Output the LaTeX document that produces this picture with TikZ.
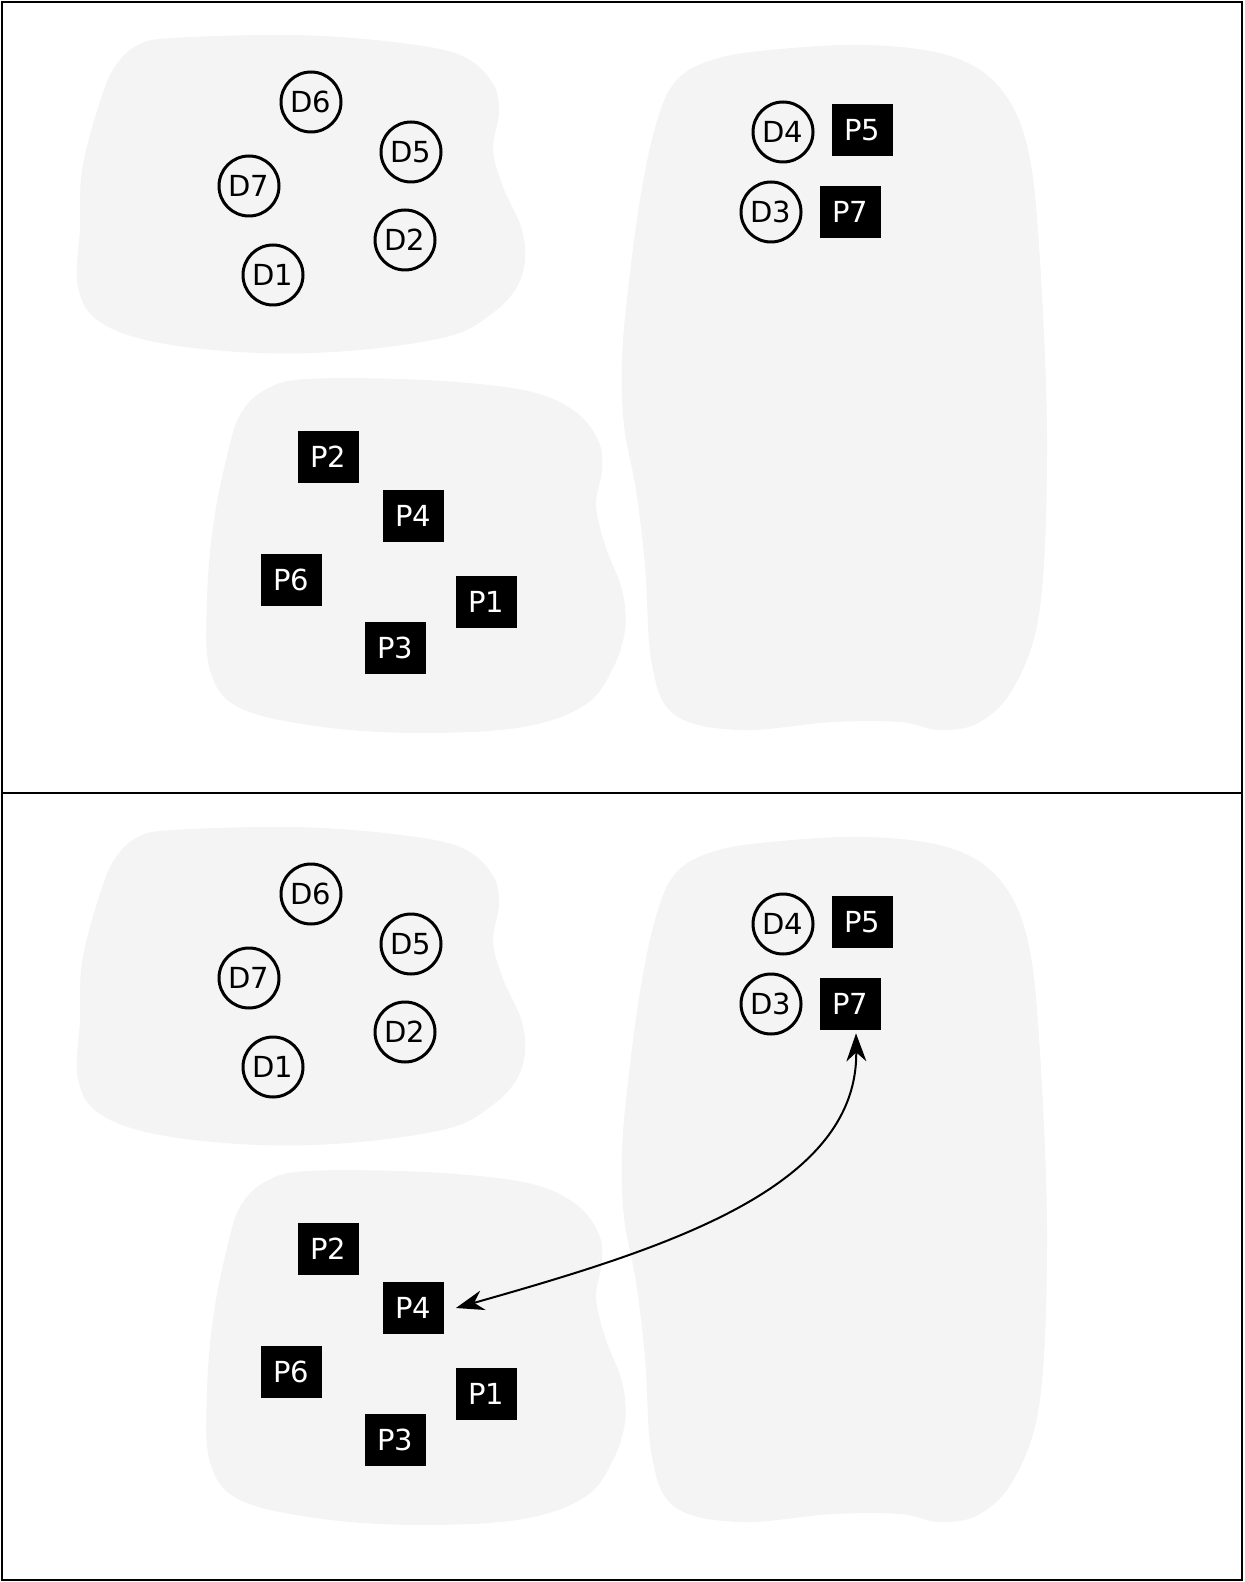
\documentclass[tikz,border=0pt]{standalone}
\usepackage{fontspec}
\setmainfont{DejaVu Sans}
\usetikzlibrary{arrows.meta}
\definecolor{blobgray}{RGB}{244,244,244}
\tikzset{
  dnode/.style={circle, draw=black, line width=1.5pt, minimum size=30pt, inner sep=0pt,
    font=\fontsize{14.5}{16}\selectfont},
  pnode/.style={rectangle, fill=black, text=white, minimum width=30.5pt, minimum height=26pt,
    inner sep=0pt, font=\fontsize{14.5}{16}\selectfont},
  blob/.style={fill=blobgray},
  frameline/.style={line width=1.2pt, draw=black},
  linkarrow/.style={line width=1pt, {Stealth[length=14pt,width=10pt,inset=4.5pt]}-{Stealth[length=14pt,width=10pt,inset=4.5pt]}}
}
\newcommand{\drawpanel}[2]{%
  \begin{scope}[shift={(0,#1)}]
    \fill[blob] plot[smooth cycle, tension=0.6] coordinates {(175,38) (293,35) (393,42) (460,55) (492,82) (499,112) (493,150) (503,187) (521,227) (525,260) (515,290) (490,315) (450,336) (360,350) (260,353) (160,343) (100,322) (78,287) (80,227) (82,170) (98,108) (114,68) (138,45)};
    \fill[blob] plot[smooth cycle, tension=0.6] coordinates {(307,379) (423,380) (523,390) (573,410) (598,440) (602,470) (596,505) (605,545) (622,590) (625,630) (612,670) (585,705) (523,727) (423,733) (323,727) (240,708) (210,670) (207,600) (213,527) (226,460) (240,415) (265,390)};
    \fill[blob] plot[smooth cycle, tension=0.6] coordinates {(770,50) (867,45) (950,56) (1000,88) (1028,150) (1040,261) (1047,445) (1040,607) (1015,685) (980,722) (940,730) (900,722) (833,722) (740,730) (675,715) (652,665) (645,565) (636,490) (624,425) (622,360) (628,290) (640,200) (655,128) (675,82) (712,60)};
    \node[dnode] (D6#2) at (311,102) {D6};
    \node[dnode] (D5#2) at (411,152) {D5};
    \node[dnode] (D7#2) at (249,186) {D7};
    \node[dnode] (D2#2) at (405,240) {D2};
    \node[dnode] (D1#2) at (273,275) {D1};
    \node[dnode] (D4#2) at (783,132) {D4};
    \node[pnode] (P5#2) at (862,130) {P5};
    \node[dnode] (D3#2) at (771,212) {D3};
    \node[pnode] (P7#2) at (850,212) {P7};
    \node[pnode] (P2#2) at (328,457) {P2};
    \node[pnode] (P4#2) at (413,516) {P4};
    \node[pnode] (P6#2) at (291,580) {P6};
    \node[pnode] (P1#2) at (486,602) {P1};
    \node[pnode] (P3#2) at (395,648) {P3};
  \end{scope}}
\begin{document}
\begin{tikzpicture}[x=0.5pt, y=-0.5pt]
  \useasboundingbox (0,0) rectangle (1244,1582);
  \fill[white] (0,0) rectangle (1244,1582);
  \drawpanel{0}{a}
  \drawpanel{792}{b}
  \draw[linkarrow] ([xshift=6pt]P4b.east) .. controls (660,1250) and (858,1190) .. ([xshift=3pt,yshift=-1.5pt]P7b.south);
  \draw[frameline] (2,2) rectangle (1242,1580);
  \draw[frameline] (2,793) -- (1242,793);
\end{tikzpicture}
\end{document}
